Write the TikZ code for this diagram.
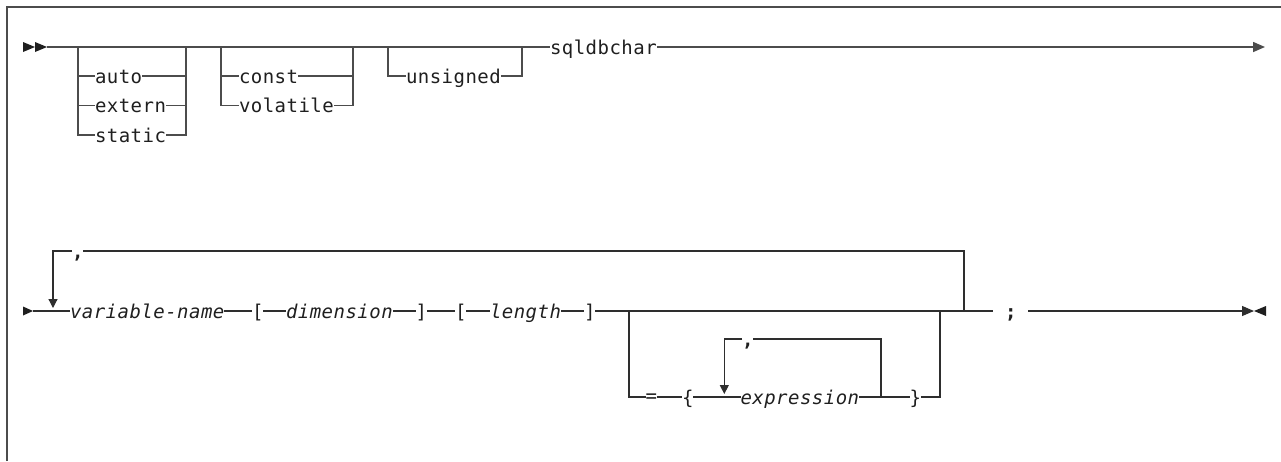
\documentclass[tikz,border=0pt]{standalone}
\usepackage{fontspec}
\newfontfamily\dmono[LetterSpace=2.5]{DejaVu Sans Mono}
\usetikzlibrary{arrows.meta}
\begin{document}
\begin{tikzpicture}[x=1pt,y=-1pt,
  rail/.style={line width=1.5pt, draw=black!70},
  railb/.style={line width=1.2pt, draw=black!82},
  endtip/.style={-{Triangle[length=12pt,width=10pt]}},
  looptip/.style={-{Triangle[length=9pt,width=9pt]}},
  txt/.style={font=\dmono\fontsize{19}{23}\selectfont, inner xsep=0pt, inner ysep=0pt, outer sep=0pt, text height=14pt, text depth=0pt, anchor=west, text=black!88},
  itxt/.style={txt, font=\dmono\itshape\fontsize{19}{23}\selectfont},
  btxt/.style={txt, font=\dmono\bfseries\fontsize{19}{23}\selectfont},
  head/.style={fill=black!88}
]
\useasboundingbox (0,0) rectangle (1281,461);
% frame
\draw[line width=1.6pt, black!70] (7,461) -- (7,7) -- (1281,7);

% ---------- row 1 ----------
\coordinate (s1) at (47,47);
\coordinate (e1) at (1265,47);
\coordinate (g1L) at (78,47);
\coordinate (g1R) at (186,47);
\coordinate (g2L) at (221,47);
\coordinate (g2R) at (353,47);
\coordinate (g3L) at (388,47);
\coordinate (g3R) at (522,47);
\node[txt] (auto) at (95,76) {auto};
\node[txt] (extern) at (95,105.5) {extern};
\node[txt] (static) at (95,135) {static};
\node[txt] (const) at (239,76) {const};
\node[txt] (volatile) at (239,105.5) {volatile};
\node[txt] (unsigned) at (406,76) {unsigned};
\node[txt] (sql) at (550,47) {sqldbchar};

\fill[head] (23,42) -- (35,47) -- (23,52) -- cycle;
\fill[head] (35,42) -- (47,47) -- (35,52) -- cycle;
\draw[rail] (s1) -- (sql.west);
\draw[rail,endtip] (sql.east) -- (e1);
\draw[rail] (g1L) |- (static.west);
\draw[rail] (g1L |- auto.west) -- (auto.west);
\draw[rail] (g1L |- extern.west) -- (extern.west);
\draw[rail] (static.east) -| (g1R);
\draw[rail] (auto.east) -- (auto.east -| g1R);
\draw[rail] (extern.east) -- (extern.east -| g1R);
\draw[rail] (g2L) |- (volatile.west);
\draw[rail] (g2L |- const.west) -- (const.west);
\draw[rail] (volatile.east) -| (g2R);
\draw[rail] (const.east) -- (const.east -| g2R);
\draw[rail] (g3L) |- (unsigned.west);
\draw[rail] (unsigned.east) -| (g3R);

% ---------- row 2 ----------
\coordinate (s2) at (33,311);
\fill[head] (23,306.5) -- (33,311) -- (23,315.5) -- cycle;
\node[itxt] (var) at (70,311) {variable-name};
\node[txt] (lb1) at (252,311) {[};
\node[itxt] (dim) at (286,311) {dimension};
\node[txt] (rb1) at (415.5,311) {]};
\node[txt] (lb2) at (455,311) {[};
\node[itxt] (len) at (490,311) {length};
\node[txt] (rb2) at (584,311) {]};
\node[btxt, inner xsep=12pt] (semi) at (993,311) {;};
\coordinate (e2) at (1254,311);
\node[btxt] (c1) at (72,251) {,};
\coordinate (lp1) at (53,308);
\coordinate (j964) at (964,311);
\coordinate (j629) at (629,311);
\coordinate (j940) at (940,311);
\node[txt, yshift=1.5pt] (eq) at (645.5,397) {=};
\node[txt] (lbr) at (682,397) {\{};
\node[itxt] (expr) at (740.5,397) {expression};
\node[txt] (rbr) at (909.5,397) {\}};
\node[btxt] (c2) at (742,339) {,};
\coordinate (lp2) at (724.3,394);
\coordinate (i881) at (881,397);

\draw[railb] (s2) -- (var.west);
\draw[railb] (var.east) -- (lb1.west);
\draw[railb] (lb1.east) -- (dim.west);
\draw[railb] (dim.east) -- (rb1.west);
\draw[railb] (rb1.east) -- (lb2.west);
\draw[railb] (lb2.east) -- (len.west);
\draw[railb] (len.east) -- (rb2.west);
\draw[railb] (rb2.east) -- (semi.west);
\draw[railb,endtip] (semi.east) -- (e2);
\fill[head] (1266,306) -- (1254,311) -- (1266,316) -- cycle;
\draw[railb,looptip] (c1.west) -| (lp1);
\draw[railb] (c1.east) -| (j964);
\draw[railb] (j629) |- (eq.west |- lbr.west);
\draw[railb] (eq.east |- lbr.west) -- (lbr.west);
\draw[railb] (lbr.east) -- (expr.west);
\draw[railb] (expr.east) -- (rbr.west);
\draw[railb] (rbr.east) -| (j940);
\draw[railb,looptip] (c2.west) -| (lp2);
\draw[railb] (c2.east) -| (i881);
\end{tikzpicture}
\end{document}
